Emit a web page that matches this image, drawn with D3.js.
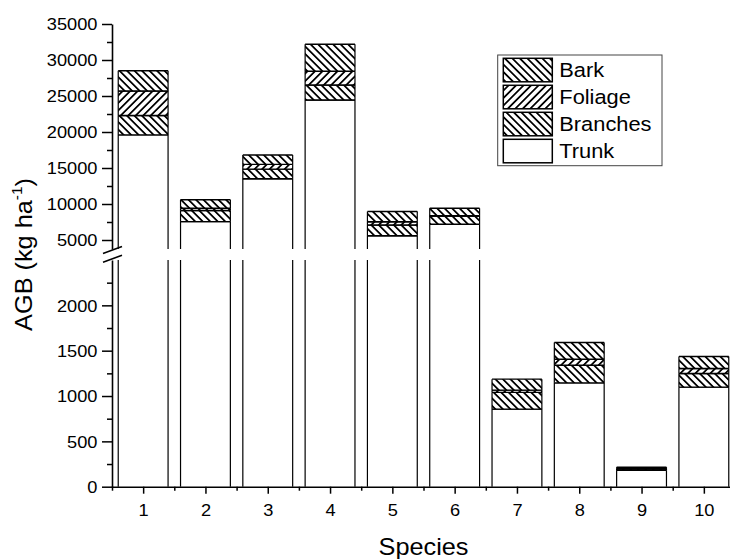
<!DOCTYPE html>
<html>
<head>
<meta charset="utf-8">
<script src="https://cdn.jsdelivr.net/npm/d3@7"></script>
<style>
  html, body { margin: 0; padding: 0; background: #fff; }
  svg { display: block; font-family: Arial, "Liberation Sans", sans-serif; }
</style>
</head>
<body>
<svg id="chart" width="730" height="559"></svg>
<script>
// -------------------------
// Data
// -------------------------
const species  = [1, 2, 3, 4, 5, 6, 7, 8, 9, 10];
const trunk    = [19600, 7550, 13500, 24450, 5600, 7180, 856, 1145, 180, 1098];
const branches = [2700, 1550, 1350, 2080, 1480, 1150, 184, 195, 16, 151];
const foliage  = [3400, 300, 650, 1900, 460, 50, 25, 66, 4, 55];
const bark     = [2800, 1200, 1300, 3750, 1410, 1020, 121, 184, 14, 132];

const seriesKeys   = ["Trunk", "Branches", "Foliage", "Bark"];
const legendOrder  = ["Bark", "Foliage", "Branches", "Trunk"];
const lowTicks     = [0, 500, 1000, 1500, 2000];
const lowMinor     = [250, 750, 1250, 1750, 2250];
const highTicks    = [5000, 10000, 15000, 20000, 25000, 30000, 35000];
const highMinor    = [7500, 12500, 17500, 22500, 27500, 32500];

const rows = species.map((s, i) => ({
  species: s, Trunk: trunk[i], Branches: branches[i], Foliage: foliage[i], Bark: bark[i]
}));

// -------------------------
// Scales (broken y axis)
// -------------------------
const svg = d3.select("#chart");
const X0 = 112, X1 = 735, Y0 = 486.7;
const x = d3.scaleLinear().domain([0.5, 10.5]).range([X0, X1]);
const yLow  = d3.scaleLinear().domain([0, 2500]).range([Y0, 260]);
const yHigh = d3.scaleLinear().domain([3750, 35000]).range([249, 24]);
const barW = (x(1) - x(0)) * 0.8;
const SX = 1.14; // glyphs in the picture are a bit wider than Arial

// -------------------------
// Hatch patterns
// -------------------------
const defs = svg.append("defs");
function hatch(id, angle) {
  const w = 7.5 / Math.SQRT2;
  const p = defs.append("pattern")
    .attr("id", id)
    .attr("patternUnits", "userSpaceOnUse")
    .attr("width", w).attr("height", 10)
    .attr("patternTransform", `rotate(${angle})`);
  p.append("rect").attr("width", w).attr("height", 10).attr("fill", "#fff");
  p.append("line")
    .attr("x1", w / 2).attr("x2", w / 2).attr("y1", -1).attr("y2", 11)
    .attr("stroke", "#000").attr("stroke-width", 1.1)
    .attr("shape-rendering", "crispEdges");
}
hatch("hatch-back", -45);
hatch("hatch-fwd", 45);
const fills = {Trunk: "#fff", Branches: "url(#hatch-back)", Foliage: "url(#hatch-fwd)", Bark: "url(#hatch-back)"};

// -------------------------
// Bars
// -------------------------
const stacked = d3.stack().keys(seriesKeys)(rows);
const barG = svg.append("g");
const panels = [yLow, yHigh];

stacked.forEach(layer => {
  layer.forEach((d, i) => {
    const [v0, v1] = d;
    if (v1 <= v0) return;
    const cx = x(species[i]), left = cx - barW / 2, right = cx + barW / 2;
    panels.forEach(sc => {
      const [dmin, dmax] = sc.domain();
      const a = Math.max(v0, dmin), b = Math.min(v1, dmax);
      if (b <= a) return;
      const yb = sc(a), yt = sc(b);
      barG.append("rect")
        .attr("x", left).attr("y", yt)
        .attr("width", barW).attr("height", yb - yt)
        .attr("fill", fills[layer.key]);
      const edges = [[left, yt, left, yb], [right, yt, right, yb]];
      if (b === v1) edges.push([left, yt, right, yt]);
      if (a === v0 && v0 > 0) edges.push([left, yb, right, yb]);
      edges.forEach(e => barG.append("line")
        .attr("x1", e[0]).attr("y1", e[1]).attr("x2", e[2]).attr("y2", e[3])
        .attr("stroke", "#000")
        .attr("stroke-width", e[1] === e[3] ? 1.4 : 1.2));
    });
  });
});

// -------------------------
// Axes
// -------------------------
function styleAxis(g) {
  g.selectAll("path.domain").attr("stroke", "#000").attr("stroke-width", 1.6);
  g.selectAll(".tick line").attr("stroke", "#000").attr("stroke-width", 1.5);
  g.selectAll("text").attr("fill", "#000").attr("font-size", 16)
    .attr("font-family", "Arial, 'Liberation Sans', sans-serif");
}

function yAxis(sc, major, minor) {
  const g = svg.append("g").attr("transform", `translate(${X0},0)`);
  g.call(d3.axisLeft(sc).tickValues(major).tickSize(10).tickSizeOuter(0).tickFormat(d3.format("d")));
  styleAxis(g);
  g.selectAll(".tick text")
    .attr("x", -14.5 / SX).attr("dy", "0.36em")
    .attr("transform", `scale(${SX},1)`);
  const m = svg.append("g").attr("transform", `translate(${X0},0)`);
  m.call(d3.axisLeft(sc).tickValues(minor).tickSize(5).tickSizeOuter(0).tickFormat(""));
  m.select("path.domain").remove();
  styleAxis(m);
}
yAxis(yLow, lowTicks, lowMinor);
yAxis(yHigh, highTicks, highMinor);

const xg = svg.append("g").attr("transform", `translate(0,${Y0})`);
xg.call(d3.axisBottom(x).tickValues(species).tickSize(7).tickSizeOuter(0).tickFormat(d3.format("d")));
styleAxis(xg);
xg.selectAll(".tick text").attr("y", 29.5).attr("dy", 0)
  .attr("transform", `scale(${SX},1)`)
  .attr("x", 0);
const xm = svg.append("g").attr("transform", `translate(0,${Y0})`);
xm.call(d3.axisBottom(x).tickValues(d3.range(0.5, 11, 1)).tickSize(4).tickSizeOuter(0).tickFormat(""));
xm.select("path.domain").remove();
styleAxis(xm);

// break marks on the y axis
svg.append("g").selectAll("line")
  .data([0, 8.8])
  .join("line")
  .attr("x1", 103).attr("y1", d => 253.5 + d)
  .attr("x2", 122).attr("y2", d => 246.5 + d)
  .attr("stroke", "#000").attr("stroke-width", 1.5);

// -------------------------
// Titles
// -------------------------
svg.append("text")
  .attr("transform", `translate(${(X0 + X1) / 2},555) scale(1.1,1)`)
  .attr("text-anchor", "middle")
  .attr("font-size", 23)
  .text("Species");

const yt = svg.append("text")
  .attr("transform", `translate(32,254.5) rotate(-90) scale(1.1,1)`)
  .attr("text-anchor", "middle")
  .attr("font-size", 23);
yt.append("tspan").text("AGB (kg ha");
yt.append("tspan").attr("font-size", 14).attr("dy", -10).text("-1");
yt.append("tspan").attr("dy", 10).text(")");

// -------------------------
// Legend
// -------------------------
const lg = svg.append("g").attr("transform", "translate(497.7,55)");
lg.append("rect")
  .attr("width", 164.3).attr("height", 110.7)
  .attr("fill", "#fff").attr("stroke", "#444").attr("stroke-width", 1);
legendOrder.forEach((k, i) => {
  lg.append("rect")
    .attr("x", 5.6).attr("y", 3.3 + i * 27)
    .attr("width", 49).attr("height", 23.5)
    .attr("fill", fills[k]).attr("stroke", "#000").attr("stroke-width", 1.5);
  lg.append("text")
    .attr("transform", `translate(61.6,${22.3 + i * 27}) scale(1.12,1)`)
    .attr("font-size", 19.5)
    .text(k);
});
</script>
</body>
</html>
